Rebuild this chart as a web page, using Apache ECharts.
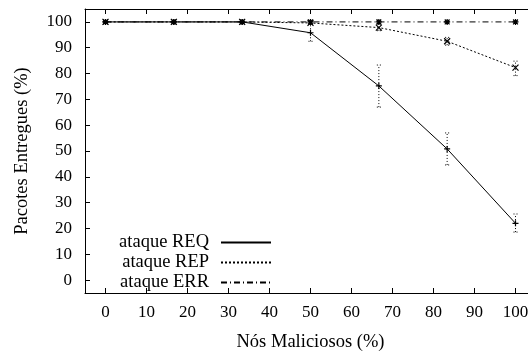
<!DOCTYPE html>
<html>
<head>
<meta charset="utf-8">
<script src="https://cdn.jsdelivr.net/npm/echarts@6/dist/echarts.min.js"></script>
<style>
  html, body { margin: 0; padding: 0; background: #fff; }
  #chart { width: 528px; height: 352px; }
</style>
</head>
<body>
<div id="chart"></div>
<script>
// malicious nodes (%)
const xValues = [0, 16.67, 33.33, 50, 66.67, 83.33, 100]
const tickValues = [0, 10, 20, 30, 40, 50, 60, 70, 80, 90, 100]

// delivered packets (%) per attack
const reqValues = [100, 100, 100, 95.8, 75.2, 50.8, 22]
const reqLow = [100, 100, 100, 92.5, 67, 44.6, 18.6]
const reqHigh = [100, 100, 100, 99, 83.3, 57, 25.6]

const repValues = [100, 100, 100, 99.6, 97.8, 92.5, 82.3]
const repLow = [100, 100, 100, 99.2, 96.6, 91, 79.2]
const repHigh = [100, 100, 100, 100, 99.2, 94, 84.8]

const errValues = [100, 100, 100, 100, 100, 100, 100]
const errLow = [100, 100, 100, 99.5, 99.3, 99.6, 99.6]
const errHigh = [100, 100, 100, 100.5, 100.7, 100.4, 100.4]

const names = ['ataque REQ', 'ataque REP', 'ataque ERR']

const FONT = '"Liberation Serif", "DejaVu Serif", serif'
const PLUS = 'path://M0,5L10,5M5,0L5,10'
const CROSS = 'path://M0,0L10,10M10,0L0,10'
const STAR = 'path://M0,5L10,5M5,0L5,10M1,1L9,9M9,1L1,9'

function pairs(vals) {
  return xValues.map((x, i) => [x, vals[i]])
}

function errData(low, high) {
  return xValues.map((x, i) => [x, low[i], high[i]])
}

function renderErr(params, api) {
  const x = api.value(0)
  const lo = api.coord([x, api.value(1)])
  const hi = api.coord([x, api.value(2)])
  const cap = 2
  const style = { stroke: '#000', lineWidth: 1, lineDash: [1, 2] }
  return {
    type: 'group',
    children: [
      { type: 'line', shape: { x1: lo[0], y1: lo[1], x2: hi[0], y2: hi[1] }, style },
      { type: 'line', shape: { x1: lo[0] - cap, y1: lo[1], x2: lo[0] + cap, y2: lo[1] }, style },
      { type: 'line', shape: { x1: hi[0] - cap, y1: hi[1], x2: hi[0] + cap, y2: hi[1] }, style }
    ]
  }
}

function lineSeries(name, vals, symbol, dash) {
  return {
    name: name,
    type: 'line',
    data: pairs(vals),
    symbol: symbol,
    symbolSize: 6,
    showAllSymbol: true,
    lineStyle: { color: '#000', width: 1, type: dash },
    itemStyle: { color: '#000', borderColor: '#000', borderWidth: 1.2 },
    emphasis: { disabled: true },
    animation: false,
    z: 3
  }
}

function errSeries(low, high) {
  return {
    type: 'custom',
    data: errData(low, high),
    renderItem: renderErr,
    silent: true,
    animation: false,
    z: 2
  }
}

const chart = echarts.init(document.getElementById('chart'))

chart.setOption({
  backgroundColor: '#fff',
  textStyle: { fontFamily: FONT },
  grid: { left: 85, right: -8, top: 9, bottom: 59, containLabel: false, outerBoundsMode: 'none' },
  legend: {
    data: names,
    orient: 'vertical',
    left: 108,
    top: 228,
    align: 'right',
    itemWidth: 50,
    itemHeight: 12,
    itemGap: 1,
    itemStyle: { opacity: 0 },
    textStyle: {
      fontFamily: FONT, fontSize: 18.5, color: '#000', lineHeight: 19,
      width: 96, align: 'right', padding: [0, 7, 0, 0]
    },
    selectedMode: false
  },
  xAxis: [{
    type: 'value',
    min: -5,
    max: 105,
    name: 'Nós Maliciosos (%)',
    nameLocation: 'middle',
    nameGap: 40,
    nameTextStyle: { fontFamily: FONT, fontSize: 18.5, color: '#000' },
    axisLine: { show: true, onZero: false, lineStyle: { color: '#000', width: 1 } },
    axisTick: { show: true, inside: true, length: 5, customValues: tickValues, lineStyle: { color: '#000' } },
    axisLabel: { customValues: tickValues, fontFamily: FONT, fontSize: 17, color: '#000', margin: 11 },
    splitLine: { show: false }
  }, {
    type: 'value',
    position: 'top',
    min: -5,
    max: 105,
    axisLine: { show: true, onZero: false, lineStyle: { color: '#000', width: 1 } },
    axisTick: { show: true, inside: true, length: 5, customValues: tickValues, lineStyle: { color: '#000' } },
    axisLabel: { show: false },
    splitLine: { show: false }
  }],
  yAxis: {
    type: 'value',
    min: -5,
    max: 105,
    name: 'Pacotes Entregues (%)',
    nameLocation: 'middle',
    nameGap: 53,
    nameRotate: 90,
    nameTextStyle: { fontFamily: FONT, fontSize: 18.5, color: '#000' },
    axisLine: { show: true, onZero: false, lineStyle: { color: '#000', width: 1 } },
    axisTick: { show: true, inside: true, length: 5, customValues: tickValues, lineStyle: { color: '#000' } },
    axisLabel: { customValues: tickValues, fontFamily: FONT, fontSize: 17, color: '#000', margin: 13 },
    splitLine: { show: false }
  },
  series: [
    lineSeries(names[0], reqValues, PLUS, 'solid'),
    lineSeries(names[1], repValues, CROSS, [2, 2]),
    lineSeries(names[2], errValues, STAR, [6, 3, 1, 3]),
    errSeries(reqLow, reqHigh),
    errSeries(repLow, repHigh),
    errSeries(errLow, errHigh)
  ]
})
</script>
</body>
</html>
